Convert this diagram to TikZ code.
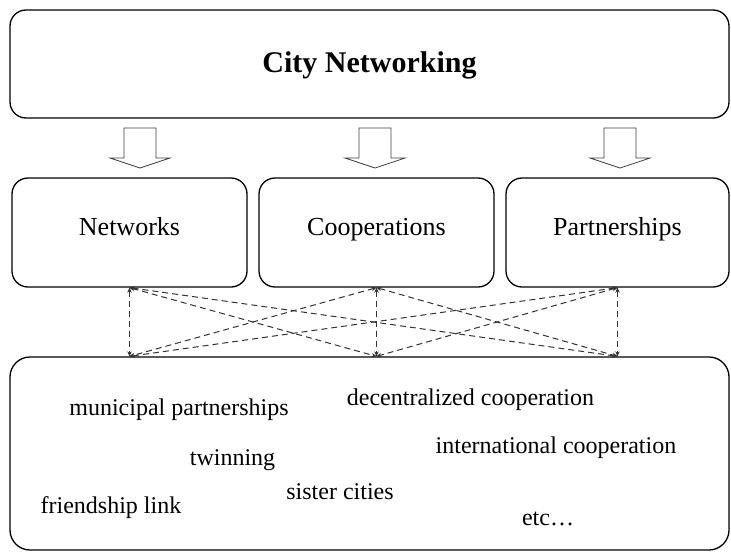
\documentclass[tikz,border=0pt]{standalone}
\usepackage{fontspec}
\setmainfont{Liberation Serif}
\usetikzlibrary{arrows.meta,calc}
\tikzset {>={Stealth[length=5pt,width=4.5pt]}}
\tikzset {box/.style={draw,line width=1.3pt,rounded corners=16pt,inner sep=0pt}}
\tikzset {term/.style={font=\sz{24},text height=16pt,text depth=5pt,inner sep=0pt}}
\newcommand*{\sz}[1]{\fontsize{#1}{#1}\selectfont}

\begin{document}
\begin{tikzpicture}[x=1pt,y=-1pt]
\useasboundingbox (0,0) rectangle (731,552);
\node[box,minimum width=719pt,minimum height=108pt,font=\bfseries\sz{30},text height=22pt,text depth=6pt] (city) at (369.5,64) {City Networking};
\foreach \x in {140,375,620}
  \draw[line width=.8pt,black!75,line join=miter] (\x-16,128) -- (\x+16,128) -- (\x+16,158) -- (\x+30,158)
    -- (\x,168) -- (\x-30,158) -- (\x-16,158) -- cycle;
\node[box,minimum width=235pt,minimum height=109pt,font=\sz{26},text height=18pt,text depth=13pt] (net) at (129.5,232.5) {Networks};
\node[box,minimum width=235pt,minimum height=109pt,font=\sz{26},text height=18pt,text depth=13pt] (coop) at (376.5,232.5) {Cooperations};
\node[box,minimum width=223pt,minimum height=109pt,font=\sz{26},text height=18pt,text depth=13pt] (part) at (617.5,232.5) {Partnerships};
\node[box,minimum width=719pt,minimum height=193pt,rounded corners=20pt] (forms) at (369.5,453.5) {};
% links between the three kinds and the forms
\foreach \a in {net,coop,part}
  \foreach \b in {net,coop,part}
    \draw[<->,line width=1pt,black!80,dash pattern=on 6pt off 4pt] (\a.south) -- (\b.south |- forms.north);
\node[term] (munic) at (179,410) {municipal partnerships};
\node[term] (decen) at (470.5,400) {decentralized cooperation};
\node[term] (twin) at (232.5,460) {twinning};
\node[term] (intl) at (556,448) {international cooperation};
\node[term] (friend) at (111,508) {friendship link};
\node[term] (sister) at (340,494) {sister cities};
\node[term] (etc) at (548,520) {etc\ldots};
\end{tikzpicture}
\end{document}
